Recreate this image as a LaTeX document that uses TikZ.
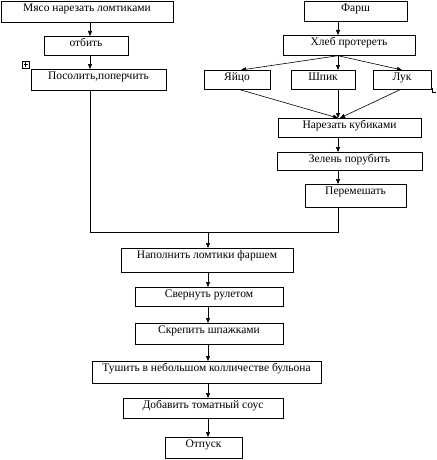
\documentclass[tikz,border=0pt]{standalone}
\usepackage{fontspec}
\setmainfont{Liberation Serif}
\usetikzlibrary{arrows.meta}
\begin{document}
\begin{tikzpicture}[x=1pt,y=-1pt,
  box/.style={draw=black,line width=0.7pt,inner sep=0pt,anchor=north,
    text height=10.5pt,font=\fontsize{11.5}{13}\selectfont},
  arr/.style={line width=0.6pt,-{Triangle[length=5pt,width=4pt]}},
  ln/.style={line width=0.6pt}]
\useasboundingbox (0,0) rectangle (436,460);
% boxes
\node[box,minimum width=172pt,text depth=10.5pt] (A) at (87,1) {Мясо нарезать ломтиками};
\node[box,minimum width=84pt,text depth=8.5pt] (B) at (86,36) {отбить};
\node[box,minimum width=135pt,text depth=10.5pt] (C) at (98.5,69) {Посолить,поперчить};
\node[box,minimum width=103pt,text depth=9.5pt] (D) at (355.5,1) {Фарш};
\node[box,minimum width=132pt,text depth=9.5pt] (E) at (349,35) {Хлеб протереть};
\node[box,minimum width=66pt,text depth=8.5pt] (F) at (237,70) {Яйцо};
\node[box,minimum width=64pt,text depth=8.5pt] (G) at (323,70) {Шпик};
\node[box,minimum width=58pt,text depth=8.5pt] (H) at (402,70) {Лук};
\node[box,minimum width=143pt,text depth=8.5pt] (I) at (349.5,118) {Нарезать кубиками};
\node[box,minimum width=145pt,text depth=7.5pt] (J) at (349.5,152) {Зелень порубить};
\node[box,minimum width=101pt,text depth=12.5pt] (K) at (355.5,184) {Перемешать};
\node[box,minimum width=172pt,text depth=13.5pt] (L) at (207,248) {Наполнить ломтики фаршем};
\node[box,minimum width=148pt,text depth=8.5pt] (M) at (209,287) {Свернуть рулетом};
\node[box,minimum width=148pt,text depth=10.5pt] (N) at (209,323) {Скрепить шпажками};
\node[box,minimum width=229pt,text depth=11.5pt] (O) at (206.5,361) {Тушить в небольшом колличестве бульона};
\node[box,minimum width=160pt,text depth=9.5pt] (P) at (203,398) {Добавить томатный соус};
\node[box,minimum width=77pt,text depth=10.5pt] (Q) at (203.5,437) {Отпуск};
% columns
\coordinate (colL) at (90,0);
\coordinate (colR) at (338,0);
\coordinate (colM) at (208,0);
\coordinate (jL) at (90,232);
\coordinate (jR) at (338,232);
% left chain
\draw[arr] (A.south -| colL) -- (B.north -| colL);
\draw[arr] (B.south -| colL) -- (C.north -| colL);
% right chain
\draw[arr] (D.south -| colR) -- (E.north -| colR);
\draw[arr] (E.south -| colR) -- ([xshift=4pt]F.north);
\draw[arr] (E.south -| colR) -- (G.north -| colR);
\draw[arr] (E.south -| colR) -- (H.north);
\draw[arr] ([xshift=3pt]F.south) -- (I.north -| colR);
\draw[arr] (G.south -| colR) -- (I.north -| colR);
\draw[arr] ([xshift=-2pt]H.south) -- ([xshift=2pt]I.north -| colR);
\draw[arr] (I.south -| colR) -- (J.north -| colR);
\draw[arr] (J.south -| colR) -- (K.north -| colR);
% join
\draw[ln] (C.south -| colL) -- (jL) -- (jR) -- (K.south -| colR);
\draw[arr] (jR -| colM) -- (L.north -| colM);
% central chain
\draw[arr] (L.south -| colM) -- (M.north -| colM);
\draw[arr] (M.south -| colM) -- (N.north -| colM);
\draw[arr] (N.south -| colM) -- (O.north -| colM);
\draw[arr] (O.south -| colM) -- (P.north -| colM);
\draw[arr] (P.south -| colM) -- (Q.north -| colM);
% small marks
\draw[line width=0.6pt] (22,61) rectangle (29,68);
\draw[line width=0.6pt] (25.5,62.5) -- (25.5,66.5) (23.5,64.5) -- (27.5,64.5);
\draw[line width=0.6pt] (432,88) -- (432,92) -- (436,92);
\end{tikzpicture}
\end{document}
